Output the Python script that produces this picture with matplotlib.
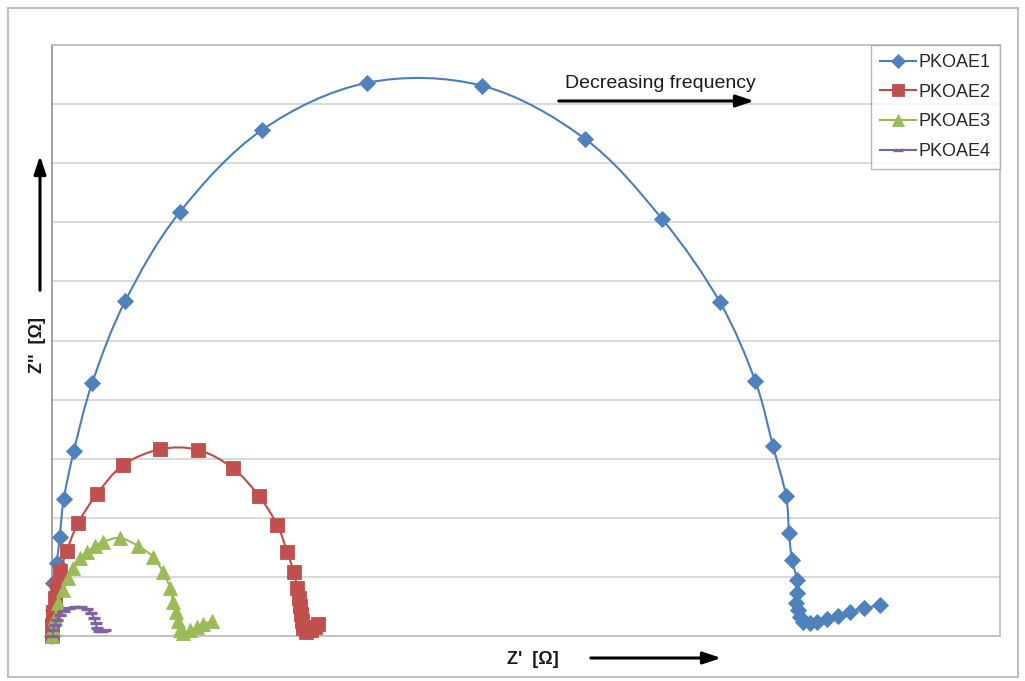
import numpy as np
import matplotlib
matplotlib.use("Agg")
import matplotlib.pyplot as plt
from matplotlib.path import Path
from matplotlib.patches import PathPatch, FancyArrowPatch, Rectangle
from matplotlib.lines import Line2D

# Nyquist data: real part Z' and negative imaginary part Z'' (arbitrary Ω units)
pkoae1_zre = [0, 2, 2, 8, 13, 20, 37, 68, 124, 216, 355, 533, 728, 902, 1032, 1130,
              1190, 1220, 1242, 1247, 1252, 1261, 1261, 1259, 1262, 1266, 1271, 1283,
              1294, 1311, 1330, 1350, 1374, 1401]
pkoae1_zim = [0, 44, 90, 124, 168, 232, 313, 428, 567, 717, 856, 936, 931, 841, 706, 565,
              431, 321, 237, 174, 129, 95, 73, 56, 44, 32, 24, 22,
              24, 29, 34, 41, 47, 52]

pkoae2_zre = [0, 0, 2, 5, 8, 14, 25, 44, 76, 120, 183, 247, 306, 350, 381, 398, 409,
              415, 418, 420, 421, 423, 425, 430, 438, 445, 450]
pkoae2_zim = [0, 19, 41, 64, 86, 110, 144, 191, 240, 289, 316, 315, 284, 237, 188, 142, 108,
              81, 64, 51, 37, 25, 14, 7, 10, 15, 20]

pkoae3_zre = [0, 2, 5, 10, 19, 27, 36, 47, 59, 73, 86, 115, 146, 171, 188, 200, 205,
              210, 213, 217, 222, 234, 245, 255, 271]
pkoae3_zim = [0, 14, 30, 56, 78, 98, 115, 132, 142, 152, 159, 166, 152, 134, 108, 81, 58,
              41, 25, 10, 5, 10, 15, 20, 25]

pkoae4_zre = [0, 2, 5, 8, 14, 20, 29, 39, 49, 59, 66, 71, 74, 76, 80, 85, 90]
pkoae4_zim = [0, 10, 19, 27, 36, 42, 47, 49, 49, 46, 39, 30, 22, 14, 8, 8, 10]

series_names = ["PKOAE1", "PKOAE2", "PKOAE3", "PKOAE4"]
line_colors = ["#4a7ebb", "#be4b48", "#98b954", "#7d60a0"]
marker_colors = ["#4f81bd", "#c0504d", "#9bbb59", "#8064a2"]
markers = ["D", "s", "^", "_"]
marker_sizes = [8, 9.5, 9.5, 8]


def smooth_path(x, y, tension=1.0 / 6.0):
    """Catmull-Rom style smoothed polyline as cubic Bezier segments."""
    pts = np.column_stack([x, y]).astype(float)
    n = len(pts)
    verts = [pts[0]]
    codes = [Path.MOVETO]
    for i in range(n - 1):
        p0 = pts[i - 1] if i > 0 else pts[i]
        p1 = pts[i]
        p2 = pts[i + 1]
        p3 = pts[i + 2] if i + 2 < n else pts[i + 1]
        c1 = p1 + (p2 - p0) * tension
        c2 = p2 - (p3 - p1) * tension
        verts += [c1, c2, p2]
        codes += [Path.CURVE4] * 3
    return Path(verts, codes)


plt.rcParams["font.family"] = ["Liberation Sans", "DejaVu Sans"]

fig = plt.figure(figsize=(10.25, 6.81), dpi=100)

# outer chart border
fig.patches.append(Rectangle((8 / 1025, 4 / 681), 1010 / 1025, 669 / 681,
                             transform=fig.transFigure, fill=False,
                             edgecolor="#bfbfbf", linewidth=1.5))

ax = fig.add_axes([52 / 1025, 45 / 681, 948 / 1025, 591 / 681])
ax.set_xlim(0, 1604)
ax.set_ylim(0, 1000)
ax.set_yticks(np.arange(0, 1001, 100))
ax.set_xticks([])
ax.tick_params(left=False, labelleft=False, bottom=False, labelbottom=False)
ax.grid(axis="y", color="#d9d9d9", linewidth=1.4)
ax.set_axisbelow(True)
for side in ["left", "right", "top", "bottom"]:
    ax.spines[side].set_color("#bfbfbf")
    ax.spines[side].set_linewidth(1.3)
ax.spines["left"].set_color("#9a9a9a")

all_x = [pkoae1_zre, pkoae2_zre, pkoae3_zre, pkoae4_zre]
all_y = [pkoae1_zim, pkoae2_zim, pkoae3_zim, pkoae4_zim]

handles = []
for k in range(4):
    z = 3 + k
    patch = PathPatch(smooth_path(all_x[k], all_y[k]), facecolor="none",
                      edgecolor=line_colors[k], linewidth=1.5, zorder=z)
    ax.add_patch(patch)
    mew = 2.4 if markers[k] == "_" else 0.6
    ax.plot(all_x[k], all_y[k], linestyle="none", marker=markers[k],
            markersize=marker_sizes[k], markerfacecolor=marker_colors[k],
            markeredgecolor=marker_colors[k], markeredgewidth=mew,
            zorder=z + 0.5, clip_on=False)
    handles.append(Line2D([], [], color=line_colors[k], linewidth=1.5,
                          marker=markers[k], markersize=marker_sizes[k] * 0.85,
                          markerfacecolor=marker_colors[k],
                          markeredgecolor=marker_colors[k], markeredgewidth=mew))

leg = ax.legend(handles, series_names, loc="upper right", bbox_to_anchor=(1.0, 1.0),
                frameon=True, fancybox=False, edgecolor="#a6a6a6", fontsize=13,
                handlelength=2.0, handletextpad=0.15, borderpad=0.5,
                labelspacing=0.7, borderaxespad=0.0)
leg.get_frame().set_linewidth(1.0)
leg.set_zorder(20)
for t in leg.get_texts():
    t.set_color("#262626")

# axis titles and direction arrows
fig.text(533 / 1025, 1 - 660 / 681, "Z'  [Ω]", fontsize=13, fontweight="bold",
         ha="center", va="center", color="#1a1a1a")
fig.text(38 / 1025, 1 - 345 / 681, "Z''  [Ω]", fontsize=13, fontweight="bold",
         ha="center", va="center", rotation=90, color="#1a1a1a")
fig.text(660 / 1025, 1 - 83 / 681, "Decreasing frequency", fontsize=14,
         ha="center", va="center", color="#1a1a1a")

arrow_kw = dict(arrowstyle="-|>,head_length=0.9,head_width=0.3", color="black",
                linewidth=2.2, mutation_scale=12, transform=fig.transFigure)
fig.patches.append(FancyArrowPatch((588 / 1025, 1 - 658 / 681), (724 / 1025, 1 - 658 / 681),
                                   **arrow_kw))
fig.patches.append(FancyArrowPatch((40 / 1025, 1 - 293 / 681), (40 / 1025, 1 - 153 / 681),
                                   **arrow_kw))
fig.patches.append(FancyArrowPatch((556 / 1025, 1 - 101 / 681), (757 / 1025, 1 - 101 / 681),
                                   **arrow_kw))

fig.savefig("out.png", dpi=100)
